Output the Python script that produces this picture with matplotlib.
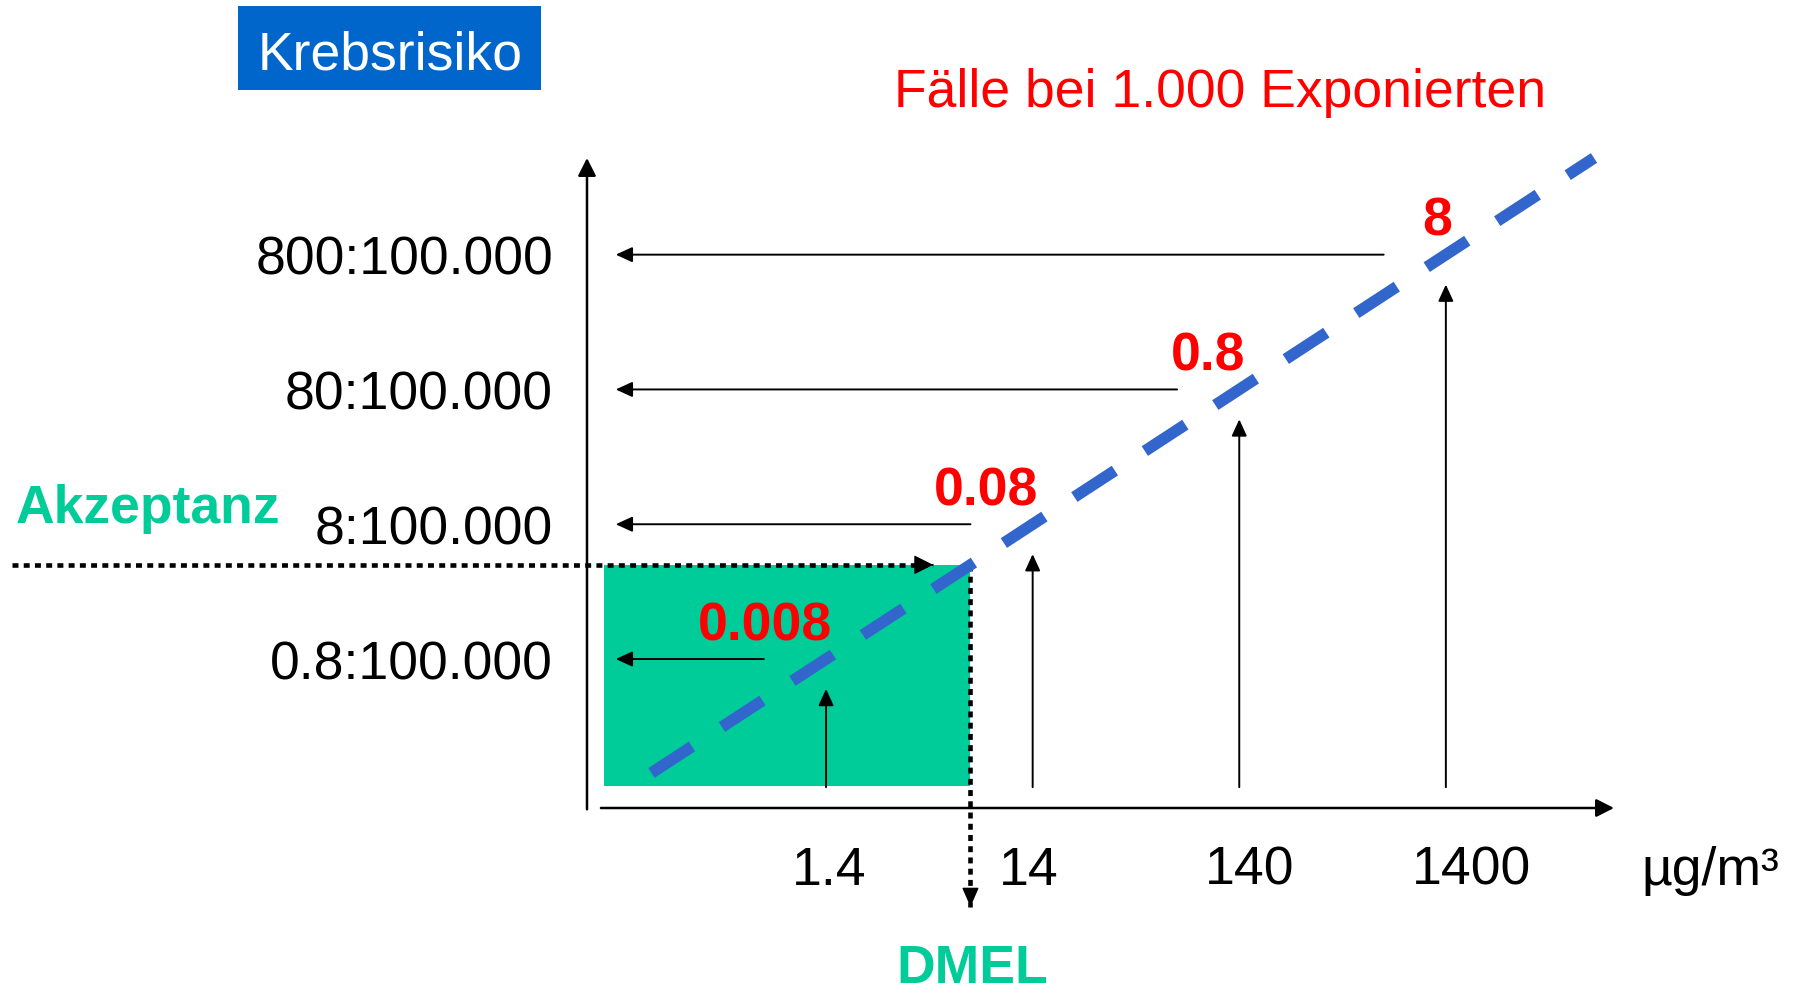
import numpy as np
import matplotlib.pyplot as plt
from matplotlib.patches import Rectangle

plt.rcParams['font.family'] = ['Liberation Sans', 'DejaVu Sans']

# exposure (µg/m³) and resulting cases per 1000 exposed persons
concentration = [1.4, 14, 140, 1400]
cases_per_1000 = [0.008, 0.08, 0.8, 8]
conc_labels = ['1.4', '14', '140', '1400']
value_labels = ['0.008', '0.08', '0.8', '8']
risk_labels = ['0.8:100.000', '8:100.000', '80:100.000', '800:100.000']
acceptance_risk = 0.04  # 4:100.000 expressed per 1000

BOX_BLUE = '#0066cc'
GREEN = '#00cc99'
RED = '#ff0000'
LINE_BLUE = '#3366cc'
FS = 38.5

W, H = 1794, 995
fig = plt.figure(figsize=(W / 100, H / 100), dpi=100)


def fx(px):
    return px / W


def fy(py):
    return 1 - py / H


# log-log frame: y axis at x=587px, x axis at y=809px
ax = fig.add_axes([fx(587), fy(809), fx(1614) - fx(587), fy(159) - fy(809)])
ax.set_xscale('log')
ax.set_yscale('log')
ax.set_xlim(0.0975, 9120)
ax.set_ylim(6.28e-4, 41.7)
ax.axis('off')


def ax_to_x(f):
    lo, hi = np.log10(ax.get_xlim())
    return 10 ** (lo + f * (hi - lo))


def ax_to_y(f):
    lo, hi = np.log10(ax.get_ylim())
    return 10 ** (lo + f * (hi - lo))


thin = dict(arrowstyle='-|>,head_length=0.72,head_width=0.33', color='black',
            lw=1.4, mutation_scale=14, shrinkA=0, shrinkB=0)
axis_arrow = dict(arrowstyle='-|>,head_length=0.77,head_width=0.39', color='black',
                  lw=1.8, mutation_scale=14, shrinkA=0, shrinkB=0)

# axes
ax.annotate('', xy=(0, 1), xytext=(0, -0.002), xycoords='axes fraction',
            arrowprops=axis_arrow)
ax.annotate('', xy=(1, 0), xytext=(0.0136, 0), xycoords='axes fraction',
            arrowprops=axis_arrow)

# dose-response line through the labelled points
slope, icpt = np.polyfit(np.log10(concentration), np.log10(cases_per_1000), 1)
span = np.array([0.2, 7300])
ax.plot(span, 10 ** (icpt + slope * np.log10(span)), color=LINE_BLUE, lw=8.3,
        dashes=(4.2, 3.1), dash_capstyle='butt', clip_on=False, zorder=5)

dmel = 10 ** ((np.log10(acceptance_risk) - icpt) / slope)

# acceptance area
x0, y0 = ax_to_x(0.0166), ax_to_y(0.0338)
ax.add_patch(Rectangle((x0, y0), dmel - x0, acceptance_risk - y0,
                       facecolor=GREEN, edgecolor='none', zorder=1))

# vertical arrows from each concentration up to the line
for c, r in zip(concentration, cases_per_1000):
    ax.annotate('', xy=(c, r * 0.6), xytext=(c, ax_to_y(0.032)),
                arrowprops=thin, zorder=3)
    # horizontal arrows from the line back to the risk axis
    ax.annotate('', xy=(ax_to_x(0.028), r), xytext=(c * 0.5, r),
                arrowprops=thin, zorder=3)

# value labels on the line
for c, r, lab in zip(concentration, cases_per_1000, value_labels):
    ax.annotate(lab, xy=(c, r), xytext=(6, 20), textcoords='offset pixels',
                ha='right', va='baseline', color=RED, fontsize=FS,
                fontweight='bold', zorder=6)

# risk labels on the left
for r, lab in zip(cases_per_1000, risk_labels):
    ax.annotate(lab, xy=(0, r), xycoords=ax.get_yaxis_transform(),
                xytext=(-34, -19), textcoords='offset pixels',
                ha='right', va='baseline', fontsize=FS)

# concentration labels below the axis
for c, lab in zip(concentration, conc_labels):
    ax.annotate(lab, xy=(c, 0), xycoords=ax.get_xaxis_transform(),
                xytext=(-34, -76), textcoords='offset pixels',
                ha='left', va='baseline', fontsize=FS)
ax.annotate('µg/m³', xy=(1, 0), xycoords='axes fraction', xytext=(27, -76),
            textcoords='offset pixels', ha='left', va='baseline', fontsize=FS)

# acceptance level and DMEL (dotted)
dot = dict(color='black', lw=3.3, dashes=(1.3, 1.15), dash_capstyle='butt',
           clip_on=False, zorder=4)
tip_x = dmel * 0.66
ax.plot([ax_to_x(-0.56), tip_x], [acceptance_risk, acceptance_risk], **dot)
ax.annotate('', xy=(tip_x, acceptance_risk), xytext=(tip_x * 0.99, acceptance_risk),
            arrowprops=dict(arrowstyle='-|>,head_length=0.8,head_width=0.4',
                            color='black', lw=1, mutation_scale=15,
                            shrinkA=0, shrinkB=0), annotation_clip=False, zorder=4)
tip_y = ax_to_y(-0.152)
ax.plot([dmel, dmel], [acceptance_risk, tip_y], **dot)
ax.annotate('', xy=(dmel, tip_y), xytext=(dmel, tip_y * 1.01),
            arrowprops=dict(arrowstyle='-|>,head_length=0.8,head_width=0.35',
                            color='black', lw=1, mutation_scale=15,
                            shrinkA=0, shrinkB=0), annotation_clip=False, zorder=4)

ax.annotate('DMEL', xy=(dmel, 0), xycoords=('data', 'axes fraction'),
            xytext=(2, -174), textcoords='offset pixels', ha='center',
            va='baseline', color=GREEN, fontsize=FS, fontweight='bold')

# headings
fig.patches.append(Rectangle((fx(238), fy(91)), fx(541) - fx(238), fy(7) - fy(91),
                             transform=fig.transFigure, facecolor=BOX_BLUE,
                             edgecolor='none'))
fig.text(fx(390), fy(70), 'Krebsrisiko', ha='center', va='baseline',
         color='white', fontsize=FS)
fig.text(fx(894), fy(107), 'Fälle bei 1.000 Exponierten', ha='left',
         va='baseline', color=RED, fontsize=FS)
fig.text(fx(16), fy(523), 'Akzeptanz', ha='left', va='baseline', color=GREEN,
         fontsize=FS, fontweight='bold')

fig.savefig('out.png', dpi=100)
